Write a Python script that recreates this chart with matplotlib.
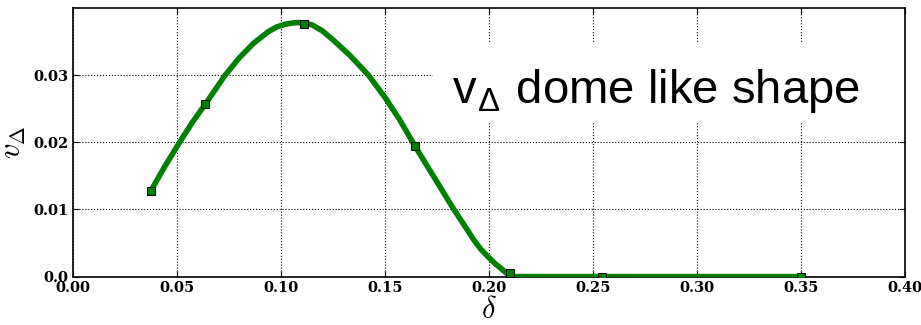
import numpy as np
import matplotlib
matplotlib.use("Agg")
import matplotlib.pyplot as plt
from matplotlib.patches import Rectangle

plt.rcParams['mathtext.fontset'] = 'cm'

delta_pts = [0.0375, 0.0636, 0.1113, 0.1644, 0.2102, 0.2542, 0.3501]
v_pts = [0.01275, 0.02565, 0.0377, 0.01945, 0.0005, 0.0, 0.0]

# smooth curve
curve_delta = [0.0375, 0.0440, 0.0513, 0.0575, 0.0636, 0.0690, 0.0732, 0.0800,
               0.0870, 0.0940, 0.0980, 0.1020, 0.1060, 0.1090, 0.1113, 0.1150,
               0.1200, 0.1253, 0.1330, 0.1421, 0.1500, 0.1570, 0.1644, 0.1734,
               0.1833, 0.1880, 0.1926, 0.1960, 0.2000, 0.2030, 0.2054, 0.2080,
               0.2102, 0.2542, 0.3501]
curve_v = [0.01275, 0.0163, 0.0200, 0.0230, 0.02565, 0.0281, 0.0300, 0.0326,
           0.0348, 0.0365, 0.0372, 0.0376, 0.0378, 0.03785, 0.0378, 0.0375,
           0.0366, 0.0352, 0.0330, 0.0300, 0.0267, 0.0234, 0.01945, 0.0149,
           0.0099, 0.0077, 0.0055, 0.0041, 0.0028, 0.0019, 0.0013, 0.0006,
           0.0, 0.0, 0.0]

xticks = [0.00, 0.05, 0.10, 0.15, 0.20, 0.25, 0.30, 0.35, 0.40]
yticks = [0.0, 0.01, 0.02, 0.03]
ytick_labels = ["0.0", "0.01", "0.02", "0.03"]

fig = plt.figure(figsize=(9.21, 3.25), dpi=100)
ax = fig.add_axes([0.079, 0.149, 0.904, 0.826])

ax.plot(curve_delta, curve_v, color='#008000', lw=4, solid_capstyle='butt',
        solid_joinstyle='round', zorder=3)
ax.plot(delta_pts, v_pts, 's', color='#008000', markersize=6,
        markeredgecolor='black', markeredgewidth=0.7, zorder=4)

ax.set_xlim(0, 0.40)
ax.set_ylim(0, 0.04)
ax.set_xticks(xticks)
ax.set_xticklabels(["%.2f" % t for t in xticks])
ax.set_yticks(yticks)
ax.set_yticklabels(ytick_labels)
for lab in ax.get_xticklabels() + ax.get_yticklabels():
    lab.set_family('DejaVu Serif')
    lab.set_fontweight('bold')
    lab.set_fontsize(10.5)
ax.tick_params(direction='in', length=4, width=0.8, top=True, right=True, pad=3)

ax.grid(True, color='black', linestyle=':', linewidth=0.8)
ax.set_axisbelow(True)
for s in ax.spines.values():
    s.set_linewidth(1.2)

ax.set_xlabel(r'$\delta$', fontsize=22, labelpad=0)
ax.set_ylabel(r'$v_\Delta$', fontsize=22, labelpad=4)

# white label box over the grid
ax.add_patch(Rectangle((0.433, 0.572), 0.567, 0.298, transform=ax.transAxes,
                       facecolor='white', edgecolor='none', zorder=2))
ax.text(0.456, 0.6476, r'v$_{\mathregular{\Delta}}$ dome like shape',
        transform=ax.transAxes, fontsize=34, family='Liberation Sans',
        va='baseline', ha='left', zorder=5)

fig.savefig("out.png", dpi=100)
